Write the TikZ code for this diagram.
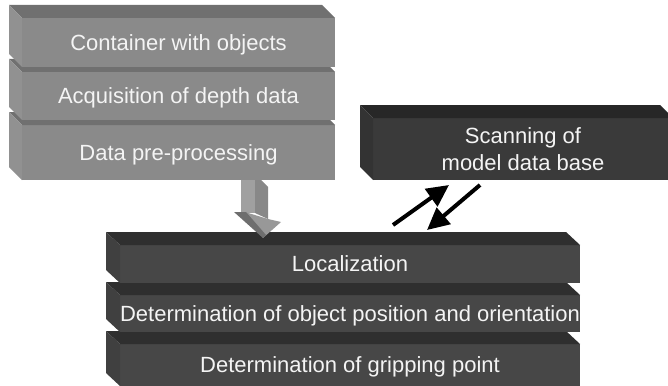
\documentclass[tikz,border=0pt]{standalone}
\usepackage{fontspec}
\setmainfont{Liberation Sans}
\usetikzlibrary{calc,arrows.meta}
\definecolor{lgfront}{HTML}{8A8A8A}
\definecolor{lgtop}{HTML}{707070}
\definecolor{lgleft}{HTML}{919191}
\definecolor{dgfront}{HTML}{474747}
\definecolor{dgtop}{HTML}{2F2F2F}
\definecolor{dgleft}{HTML}{404040}
\definecolor{scfront}{HTML}{3A3A3A}
\definecolor{sctop}{HTML}{272727}
\definecolor{scleft}{HTML}{333333}
\definecolor{txtcol}{HTML}{F4F4F4}
\definecolor{garfront}{HTML}{A0A0A0}
\definecolor{garside}{HTML}{888888}
\definecolor{gardark}{HTML}{6E6E6E}
\newcommand\ctext[1]{\makebox[0pt]{#1}}
% name, top colour, left colour, dx, dy
\newcommand\slabfaces[5]{%
  \fill[#2] ($(#1.north west)+(-#4,-#5)$) -- ($(#1.north east)+(-#4,-#5)$) -- (#1.north east) -- (#1.north west) -- cycle;
  \fill[#3] ($(#1.north west)+(-#4,-#5)$) -- (#1.north west) -- (#1.south west) -- ($(#1.south west)+(-#4,-#5)$) -- cycle;
}
\tikzset{
  face/.style={anchor=north west, inner sep=0pt, outer sep=0pt, draw=none,
    text=txtcol, font=\fontsize{22}{27}\selectfont, text height=15.7pt, text depth=0pt},
  arr/.style={line width=4pt, -{Triangle[length=22pt 0 0,width=21pt 0 0]}}
}
\begin{document}
\begin{tikzpicture}[x=1pt,y=-1pt]
\clip (0,0) rectangle (668,385);
\fill[white] (0,0) rectangle (668,385);

% upper stack (light grey)
\node[face, fill=lgfront, minimum width=313pt, minimum height=55pt] (pre) at (22,125) {\ctext{Data pre-processing}};
\slabfaces{pre}{lgtop}{lgleft}{13}{13}
\node[face, fill=lgfront, minimum width=313pt, minimum height=48pt] (acq) at (22,72) {\ctext{Acquisition of depth data}};
\slabfaces{acq}{lgtop}{lgleft}{13}{13}
\node[face, fill=lgfront, minimum width=313pt, minimum height=49pt] (cont) at (22,18) {\ctext{Container with objects}};
\slabfaces{cont}{lgtop}{lgleft}{13}{13}

% model data base
\node[face, fill=scfront, minimum width=300pt, minimum height=62pt, align=center, text height=, text depth=] (scan) at (373,118) {Scanning of\\model data base};
\slabfaces{scan}{sctop}{scleft}{13}{13}

% lower stack (dark grey)
\node[face, fill=dgfront, minimum width=460pt, minimum height=42pt] (grip) at (120,344) {\ctext{Determination of gripping point}};
\slabfaces{grip}{dgtop}{dgleft}{14}{13}
\node[face, fill=dgfront, minimum width=460pt, minimum height=37pt] (pos) at (120,295) {\ctext{Determination of object position and orientation}};
\slabfaces{pos}{dgtop}{dgleft}{14}{13}
\node[face, fill=dgfront, minimum width=460pt, minimum height=38pt] (loc) at (120,245) {\ctext{Localization}};
\slabfaces{loc}{dgtop}{dgleft}{14}{13}

% grey block arrow from pre-processing to localization
\coordinate (ga) at (241,180);
\begin{scope}[shift={(ga)}]
  \fill[garside] (14,0) -- (20,0) -- (27,7) -- (27,39) -- (14,33) -- cycle;
  \fill[garfront] (0,0) -- (14,0) -- (14,33) -- (0,33) -- cycle;
  \fill[garfront!95!black] (4,32) -- (27,39) -- (40,42) -- (22,58) -- cycle;
  \fill[gardark] (-7,32) -- (5,32) -- (25,55) -- (22,58) -- cycle;
\end{scope}

% black arrows between localization and model data base
\coordinate (a1s) at (393,225);
\coordinate (a1e) at (449,185);
\coordinate (a2s) at (480,185);
\coordinate (a2e) at (427,230);
\draw[arr] (a1s) -- (a1e);
\draw[arr] (a2s) -- (a2e);
\end{tikzpicture}
\end{document}
